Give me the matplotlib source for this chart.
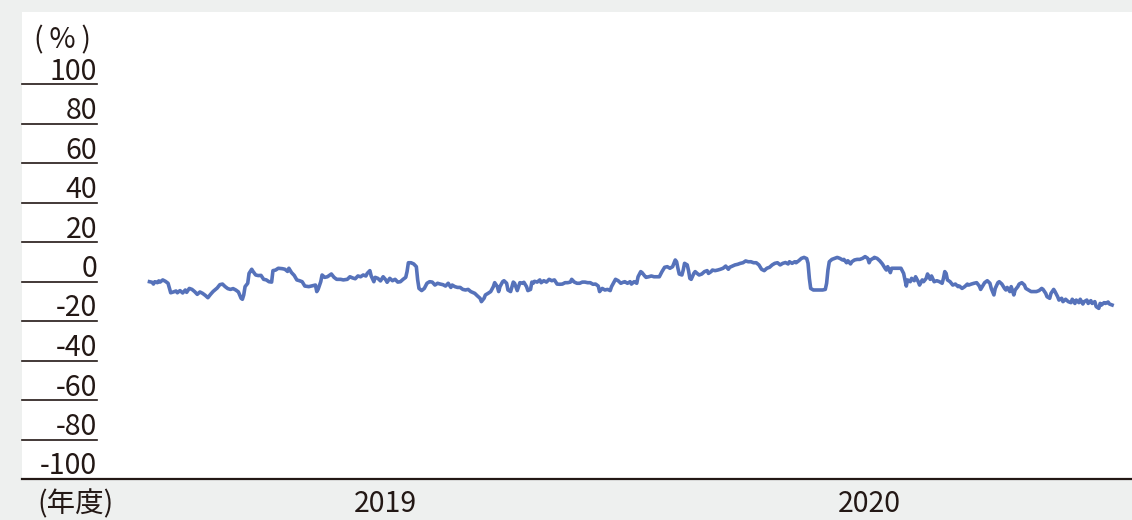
import matplotlib
matplotlib.use("Agg")
import matplotlib.pyplot as plt
from matplotlib.patches import Rectangle
from matplotlib.transforms import blended_transform_factory, offset_copy

plt.rcParams['font.family'] = ['Noto Sans CJK JP', 'DejaVu Sans']

# days since start of FY2019 (2019-04-01), values in %
days = [5, 7, 8, 9, 11, 12, 13, 15, 17, 19, 21, 23, 25, 26, 28, 30, 32, 33, 35, 37,
        39, 41, 43, 45, 47, 49, 51, 53, 56, 58, 60, 62, 64, 66, 68, 70, 72, 74, 75, 76,
        77, 79, 80, 82, 83, 85, 87, 89, 91, 93, 95, 97, 98, 100, 102, 105, 107, 109, 110, 112,
        114, 116, 118, 120, 122,
        125, 127, 130, 131, 132, 134, 135, 137, 139, 142, 144, 146, 149, 151, 154, 156, 158, 160, 162, 164,
        166, 168, 169, 171, 172, 174, 175, 177, 179, 181, 183, 184, 186, 188, 190, 192, 194, 196, 198, 199,
        200, 202, 204, 206, 207, 208, 210, 212, 214, 216, 218, 220, 222, 224, 226, 228, 230, 232, 233, 235,
        237, 239, 241,
        243, 245, 247, 250, 252, 254, 255, 257, 258, 260, 262, 264, 265, 267, 268, 269, 271, 272, 274, 275,
        277, 278, 279, 280, 282, 283, 284, 286, 287, 289, 290, 292, 293, 294, 295, 297, 299, 300, 302, 304,
        306, 308, 310, 312, 314, 316, 318, 320, 322, 323, 325, 327, 329, 331, 333, 335, 337, 339, 341, 343,
        344, 346, 348, 350, 352, 353, 355, 356, 358, 360, 362,
        363, 365, 367, 368, 370, 372, 373, 375, 376, 378, 379, 381, 383, 385, 387, 389, 391, 393, 395, 397,
        399, 401, 402, 403, 404, 406, 407, 408, 410, 411, 412, 413, 415, 416, 418, 419, 421, 423, 425, 426,
        428, 429, 431, 433, 435, 437, 439, 441, 442, 444, 446, 448, 450, 452, 454, 456, 458, 460, 462, 464,
        466, 468, 470, 472, 474, 476, 478, 480, 482,
        484, 486, 487, 489, 491, 492, 494, 496, 498, 500, 501, 502, 503, 505, 507, 510, 512, 514, 515, 516,
        517, 519, 521, 523, 525, 527, 528, 530, 531, 533, 534, 536, 538, 540, 542, 544, 546, 547, 548, 550,
        551, 553, 555, 557, 559, 560, 561, 563, 564, 566, 569, 571, 573, 574, 575, 576, 578, 579, 581, 582,
        584, 585, 587, 588, 590, 591, 593, 594, 596, 598, 600, 602, 603,
        604, 605, 606, 608, 610, 612, 614, 615, 617, 619, 621, 622, 624, 626, 628, 630, 631, 633, 634, 636,
        638, 639, 641, 642, 644, 645, 647, 649, 650, 651, 653, 654, 656, 657, 659, 660, 662, 664, 665, 667,
        669, 671, 673, 675, 677, 678, 680, 681, 683, 684, 686, 687, 689, 690, 692, 693, 695, 697, 699, 700,
        702, 703, 705, 706, 708, 709, 711, 712, 714, 715, 717, 718, 720, 721, 722, 724, 725, 727, 728, 730]

values = [-0.1, -0.4, -1.3, -0.1, -0.6, 0.3, -0.3, 0.8, 0.1, -0.9, -5.7, -5.3, -4.8, -5.7, -4.6, -5.8, -4.3, -5.5, -3.5, -4.0,
          -5.1, -6.5, -5.3, -6.0, -7.0, -8.2, -6.5, -5.0, -3.3, -1.6, -1.3, -2.6, -3.6, -4.0, -3.6, -4.3, -5.3, -8.5, -9.0, -6.8,
          -2.6, -0.9, 4.1, 6.2, 5.1, 3.3, 3.0, 3.1, 1.1, 0.8, -0.1, -0.3, 5.5, 5.8, 6.7, 6.5, 6.2, 5.1, 6.7, 4.5,
          3.1, 0.8, 0.4, -0.1, -2.3,
          -2.6, -2.3, -1.8, -5.1, -4.0, -0.1, 3.3, 2.1, 2.4, 3.8, 2.1, 1.1, 1.1, 0.8, 1.1, 2.4, 1.8, 1.4, 2.8, 2.4,
          3.3, 2.8, 4.1, 5.5, 2.8, -0.1, 2.1, 1.6, 0.3, 2.4, 0.8, -0.4, 1.6, 0.4, 1.1, -0.3, -0.1, 1.1, 2.1, 5.0,
          9.5, 9.5, 8.9, 7.5, 0.8, -3.5, -4.6, -3.5, -0.9, -0.1, -0.3, -1.8, -0.9, -1.3, -1.6, -2.3, -0.9, -3.0, -1.8, -2.6,
          -3.0, -3.0, -4.0,
          -4.3, -4.0, -5.1, -6.0, -7.3, -8.5, -10.2, -8.5, -6.8, -6.0, -5.1, -2.6, -0.6, -2.6, -5.1, -2.6, -0.1, 0.4, -0.9, -4.3,
          -5.1, -2.6, -0.3, -0.9, -4.6, -2.6, -0.6, -0.9, -0.4, -2.6, -4.6, -4.0, -0.3, -0.9, 0.1, -0.3, 0.8, -0.6, 0.4, -0.3,
          1.1, 0.4, 0.8, -1.3, -1.4, -1.3, -0.6, -0.6, -0.3, 1.1, -0.3, -0.9, -0.9, -0.3, -0.3, -0.6, -0.6, -1.4, -1.3, -2.3,
          -5.1, -3.5, -4.3, -4.0, -4.6, -2.6, -0.1, 1.1, 0.4, -0.9, -0.3,
          -0.1, -0.9, -0.1, -1.3, -0.1, -0.9, 2.4, 5.0, 4.5, 2.8, 2.1, 2.4, 2.8, 2.4, 2.4, 2.4, 5.0, 7.2, 7.5, 6.7,
          7.5, 10.9, 10.0, 6.7, 3.8, 3.3, 5.8, 9.2, 8.4, 5.5, 1.6, 1.1, 4.1, 5.0, 3.8, 3.3, 3.8, 5.0, 5.5, 4.1,
          5.0, 5.8, 5.5, 5.8, 6.2, 6.7, 7.8, 6.2, 7.2, 7.8, 8.4, 8.7, 9.2, 9.5, 10.4, 10.0, 10.0, 9.5, 9.5, 8.4,
          6.2, 5.5, 6.7, 7.2, 8.4, 9.2, 9.5, 8.4, 9.2,
          9.6, 8.9, 10.0, 9.2, 10.0, 9.5, 10.5, 11.7, 12.2, 11.6, 9.2, 1.6, -3.5, -4.3, -4.3, -4.3, -4.3, -4.0, -0.9, 5.8,
          10.0, 11.2, 11.7, 12.2, 11.7, 10.9, 11.2, 9.5, 10.5, 8.9, 10.0, 10.9, 11.2, 11.2, 11.7, 12.6, 11.7, 9.5, 10.9, 11.7,
          12.2, 11.7, 10.5, 8.9, 6.7, 5.8, 7.5, 4.5, 6.7, 6.7, 6.7, 6.7, 4.1, 0.8, -2.3, 0.8, -0.1, 1.6, 0.4, 2.4,
          -0.1, -1.8, 0.8, -0.1, 1.6, 3.8, 1.1, 2.8, -0.1, 0.4, -0.1, -0.9, 1.6,
          5.0, 4.1, 0.8, -0.1, -1.8, -1.3, -2.6, -2.3, -3.5, -2.6, -1.3, -1.8, -1.3, -0.9, -0.6, -2.3, -4.0, -1.8, -0.6, 0.4,
          -0.9, -3.5, -6.8, -3.5, -0.6, -0.1, -1.3, -3.5, -4.3, -3.0, -5.1, -2.6, -6.8, -4.3, -2.6, -1.3, -0.6, -1.8, -3.5, -4.3,
          -5.1, -5.1, -5.1, -4.6, -3.5, -4.0, -6.0, -7.7, -8.5, -6.0, -4.0, -5.1, -7.7, -9.4, -8.5, -10.2, -9.0, -10.2, -10.7, -9.0,
          -11.1, -9.4, -10.7, -9.0, -11.4, -10.2, -9.4, -11.1, -9.7, -11.1, -10.2, -12.7, -13.6, -11.1, -11.9, -10.7, -11.1, -10.4, -11.4, -11.9]

y_ticks = [100, 80, 60, 40, 20, 0, -20, -40, -60, -80, -100]
year_labels = ["2019", "2020"]
year_mid_days = [182.5, 547.5]

TEXT = '#231815'
LINE = '#5672BA'
BG = '#EEF0EF'
FS = 20.5

fig = plt.figure(figsize=(11.32, 5.2), dpi=100, facecolor=BG)
# white plotting panel (behind the axes)
fig.patches.append(Rectangle((22 / 1132, 41 / 520), 1 - 22 / 1132, 467 / 520,
                             transform=fig.transFigure, facecolor='white',
                             edgecolor='none', zorder=-10))

ax = fig.add_axes([22 / 1132, 41 / 520, 1 - 22 / 1132, 395 / 520])
ax.set_zorder(1)
ax.set_facecolor('none')
ax.set_xlim(-91, 745)
ax.set_ylim(-100, 100)
for s in ax.spines.values():
    s.set_visible(False)
ax.set_xticks([])
ax.set_yticks([])

ax.plot(days, values, color=LINE, lw=2.6, solid_joinstyle='round', zorder=3)

trans = blended_transform_factory(ax.transAxes, ax.transData)
lab_x = 75 / 1110
for v in y_ticks:
    if v == -100:
        ax.plot([0, 1], [v, v], transform=trans, color=TEXT, lw=1.6, clip_on=False)
    else:
        ax.plot([0, lab_x], [v, v], transform=trans, color=TEXT, lw=1.2, clip_on=False)
    t = offset_copy(trans, fig=fig, x=0, y=4.5, units='dots')
    ax.text(lab_x, v, str(v), transform=t, ha='right', va='baseline',
            fontsize=FS, color=TEXT)

fig.text(91 / 1132, 1 - 48 / 520, '(\u2009%\u2009)', ha='right', va='baseline',
         fontsize=FS, color=TEXT)
fig.text(37 / 1132, 1 / 520, '(年度)', ha='left', va='bottom',
         fontsize=FS, color=TEXT)

ytrans = blended_transform_factory(ax.transData, fig.transFigure)
for d, lab in zip(year_mid_days, year_labels):
    ax.text(d, 1 / 520, lab, transform=ytrans, ha='center', va='bottom',
            fontsize=FS, color=TEXT)

fig.savefig('out.png', dpi=100, facecolor=BG)
